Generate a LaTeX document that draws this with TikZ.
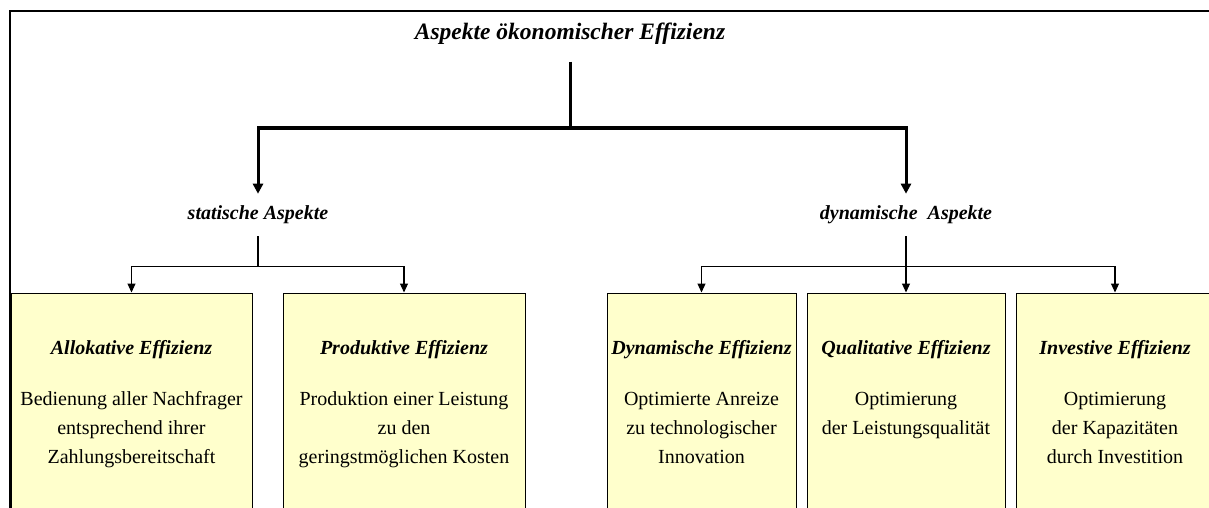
\documentclass[tikz,border=0pt]{standalone}
\usepackage{fontspec}
\setmainfont{Liberation Serif}
\usepackage{tikz}
\usetikzlibrary{arrows.meta, positioning, calc}
\definecolor{boxfill}{HTML}{FFFFCC}

\begin{document}
\begin{tikzpicture}[
    % 1. Work in pixel-like units, y pointing down
    x=1pt, y=-1pt,
    % 2. Connector styles: thick from the title, thin to the boxes
    bigarrow/.style={line width=3pt, -{Triangle[width=10pt,length=10pt]}},
    smallarrow/.style={line width=1.1pt, -{Triangle[width=8pt,length=9pt]}},
    % 3. Styles for the labels and the boxes
    head/.style={font=\fontsize{23.5}{28}\selectfont\bfseries\itshape, inner xsep=2pt, inner ysep=17pt},
    aspect/.style={font=\fontsize{20}{24}\selectfont\bfseries\itshape, inner xsep=2pt, inner ysep=12pt},
    effbox/.style={rectangle, draw, line width=1pt, fill=boxfill, minimum height=222pt},
    efftext/.style={align=center, inner sep=0pt, font=\fontsize{20}{29}\selectfont}
]
    \useasboundingbox (0,0) rectangle (1209,508);

    % --- FRAME ---
    \draw[line width=1.2pt] (1215,11) -- (10,11) -- (10,515);

    % --- TITLE AND ASPECTS ---
    \node (title) [head] at (570,34) {Aspekte ökonomischer Effizienz};
    \node (stat) [aspect] at (258,215) {statische Aspekte};
    \node (dyn) [aspect] at (906,215) {dynamische\ \ Aspekte};
    \coordinate (split) at (570,128);

    % --- BOXES ---
    \node (allo) [effbox, minimum width=241pt] at (131.5,404) {};
    \node (prod) [effbox, minimum width=242pt] at (404,404) {};
    \node (dyna) [effbox, minimum width=189pt] at (701.5,404) {};
    \node (qual) [effbox, minimum width=198pt] at (906,404) {};
    \node (inve) [effbox, minimum width=198pt] at (1115,404) {};

    % --- BOX TEXTS ---
    \node (alloT) [efftext, below=48pt of allo.north] {\textbf{\textit{Allokative Effizienz}}\\[22pt]
        Bedienung aller Nachfrager\\entsprechend ihrer\\Zahlungsbereitschaft};
    \node (prodT) [efftext, below=48pt of prod.north] {\textbf{\textit{Produktive Effizienz}}\\[22pt]
        Produktion einer Leistung\\zu den\\geringstmöglichen Kosten};
    \node (dynaT) [efftext, below=48pt of dyna.north] {\textbf{\textit{Dynamische Effizienz}}\\[22pt]
        Optimierte Anreize\\zu technologischer\\Innovation};
    \node (qualT) [efftext, below=48pt of qual.north] {\textbf{\textit{Qualitative Effizienz}}\\[22pt]
        Optimierung\\der Leistungsqualität};
    \node (inveT) [efftext, below=48pt of inve.north] {\textbf{\textit{Investive Effizienz}}\\[22pt]
        Optimierung\\der Kapazitäten\\durch Investition};

    % --- EDGES FROM TITLE ---
    \draw[bigarrow] (title.south) -- (split) -| (stat.north);
    \draw[bigarrow] (title.south) -- (split) -| (dyn.north);

    % --- EDGES TO BOXES ---
    \draw[smallarrow] (stat.south) -- ++(0,30) -| (allo.north);
    \draw[smallarrow] (stat.south) -- ++(0,30) -| (prod.north);
    \draw[smallarrow] (dyn.south) -- ++(0,30) -| (dyna.north);
    \draw[smallarrow] (dyn.south) -- (qual.north);
    \draw[smallarrow] (dyn.south) -- ++(0,30) -| (inve.north);

\end{tikzpicture}
\end{document}
